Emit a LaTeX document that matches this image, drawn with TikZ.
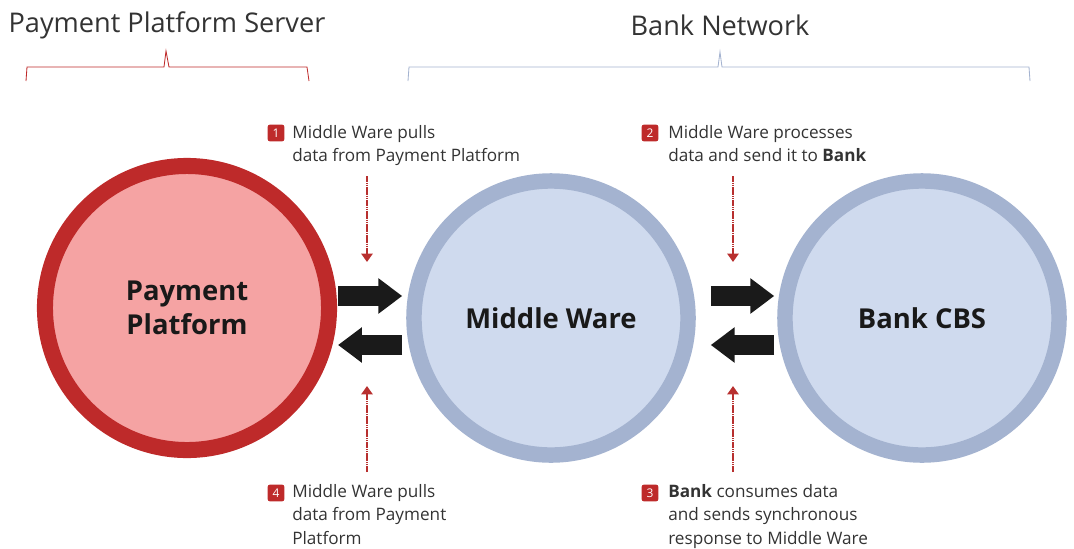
\documentclass[tikz,border=0pt]{standalone}
\usepackage{fontspec}
\setmainfont{Open Sans}
\usetikzlibrary{arrows.meta}
\definecolor{ppred}{HTML}{BE2A2A}
\definecolor{pppink}{HTML}{F5A3A3}
\definecolor{bnring}{HTML}{A4B3D0}
\definecolor{bnfill}{HTML}{CFDAEE}
\definecolor{txtgray}{HTML}{333333}
\definecolor{dotred}{HTML}{B8302F}
\definecolor{arrowblack}{HTML}{1A1A1A}
\begin{document}
\begin{tikzpicture}[x=0.025cm, y=-0.025cm,
    hub/.style={circle, line width=11pt, inner sep=0pt, align=center, text=black!90,
      font=\fontsize{19.5}{24}\selectfont\bfseries},
    blockarrow/.style={arrowblack, line width=14.2pt, -{Triangle[length=17pt, width=24.2pt]}},
    hint/.style={dotred, line width=2pt, dash pattern=on 1.2pt off 0.35pt,
      -{Triangle[length=6pt, width=8pt]}},
    badge/.style={fill=ppred, rounded corners=1.8pt, minimum size=12pt, inner sep=0pt,
      text=white, font=\fontsize{8.5}{9}\selectfont},
    note/.style={anchor=north west, align=left, inner sep=0pt, text=txtgray,
      font=\fontsize{12.2}{16.6}\selectfont},
    header/.style={text=txtgray, font=\fontsize{19.3}{23}\selectfont}]
  \useasboundingbox (0,0) rectangle (1074,548);

  % group headers
  \node[header] (srv) at (167,25) {Payment Platform Server};
  \node[header] (net) at (720,25) {Bank Network};
  \draw[ppred, line width=0.6pt] (26,81) -- (27,67) -- (164,67) -- (166,51) -- (169,67) -- (307,67) -- (309,81);
  \draw[bnring, line width=0.6pt] (408,81) -- (409,67) -- (718,67) -- (720,52) -- (722,67) -- (1029,67) -- (1030,81);

  % the three systems
  \node[hub, draw=ppred, fill=pppink, line width=11.4pt, minimum size=7.1cm] (pp) at (187,308) {Payment\\Platform};
  \node[hub, draw=bnring, fill=bnfill, minimum size=6.85cm] (mw) at (551,318) {Middle Ware};
  \node[hub, draw=bnring, fill=bnfill, minimum size=6.85cm] (cbs) at (922,318) {Bank CBS};

  % data flow
  \draw[blockarrow] ([shift={(1,-12)}]pp.east) -- ([shift={(-4,-22)}]mw.west);
  \draw[blockarrow] ([shift={(-4,27)}]mw.west) -- ([shift={(1,37)}]pp.east);
  \draw[blockarrow] ([shift={(15,-22)}]mw.east) -- ([shift={(-3,-22)}]cbs.west);
  \draw[blockarrow] ([shift={(-3,27)}]cbs.west) -- ([shift={(15,27)}]mw.east);

  % steps
  \node[badge] (b1) at (276,133) {1};
  \node[note] (n1) at (292,125) {Middle Ware pulls\\data from Payment Platform};
  \node[badge] (b2) at (650,133) {2};
  \node[note] (n2) at (668,125) {Middle Ware processes\\data and send it to \textbf{Bank}};
  \node[badge] (b3) at (650,493) {3};
  \node[note] (n3) at (668,484) {\textbf{Bank} consumes data\\and sends synchronous\\response to Middle Ware};
  \node[badge] (b4) at (276,493) {4};
  \node[note] (n4) at (292,484) {Middle Ware pulls\\data from Payment\\Platform};

  \coordinate (h1a) at (367,176);
  \coordinate (h1b) at (367,262);
  \coordinate (h2a) at (733,176);
  \coordinate (h2b) at (733,262);
  \coordinate (h3a) at (733,472);
  \coordinate (h3b) at (733,386);
  \coordinate (h4a) at (367,472);
  \coordinate (h4b) at (367,386);
  \draw[hint] (h1a) -- (h1b);
  \draw[hint] (h2a) -- (h2b);
  \draw[hint] (h3a) -- (h3b);
  \draw[hint] (h4a) -- (h4b);
\end{tikzpicture}
\end{document}
